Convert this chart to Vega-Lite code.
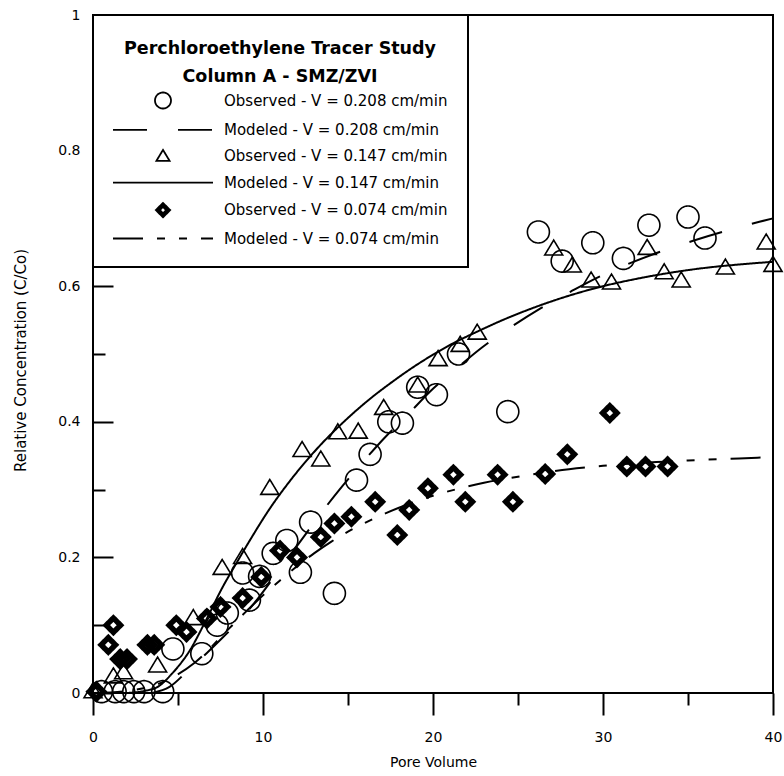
{
  "$schema": "https://vega.github.io/schema/vega-lite/v6.json",
  "width": 680,
  "height": 678,
  "autosize": {"type": "none"},
  "padding": {"left": 93, "top": 15, "right": 11, "bottom": 83},
  "background": "white",
  "config": {
    "view": {"stroke": "black", "strokeWidth": 2},
    "font": "DejaVu Sans",
    "axis": {
      "labelFont": "DejaVu Sans", "labelFontSize": 14, "labelColor": "black",
      "titleFont": "DejaVu Sans", "titleFontSize": 14, "titleFontWeight": "normal", "titleColor": "black",
      "tickColor": "black", "tickWidth": 2, "domain": false, "grid": false,
      "labelFlush": false, "labelOverlap": false, "labelBound": false
    },
    "legend": {"strokeWidth": 2}
  },
  "layer": [
    {
      "data": {"values": [
        {"s": "Modeled - V = 0.208 cm/min", "x": 3.5, "y": 0},
        {"s": "Modeled - V = 0.208 cm/min", "x": 4.5, "y": 0.009},
        {"s": "Modeled - V = 0.208 cm/min", "x": 5.7, "y": 0.036},
        {"s": "Modeled - V = 0.208 cm/min", "x": 6.7, "y": 0.059},
        {"s": "Modeled - V = 0.208 cm/min", "x": 7.6, "y": 0.081},
        {"s": "Modeled - V = 0.208 cm/min", "x": 8.5, "y": 0.104},
        {"s": "Modeled - V = 0.208 cm/min", "x": 9.5, "y": 0.133},
        {"s": "Modeled - V = 0.208 cm/min", "x": 10.5, "y": 0.166},
        {"s": "Modeled - V = 0.208 cm/min", "x": 11.5, "y": 0.2},
        {"s": "Modeled - V = 0.208 cm/min", "x": 12.5, "y": 0.234},
        {"s": "Modeled - V = 0.208 cm/min", "x": 13.5, "y": 0.268},
        {"s": "Modeled - V = 0.208 cm/min", "x": 14.5, "y": 0.3},
        {"s": "Modeled - V = 0.208 cm/min", "x": 15.3, "y": 0.324},
        {"s": "Modeled - V = 0.208 cm/min", "x": 16.2, "y": 0.35},
        {"s": "Modeled - V = 0.208 cm/min", "x": 17.1, "y": 0.375},
        {"s": "Modeled - V = 0.208 cm/min", "x": 18.5, "y": 0.41},
        {"s": "Modeled - V = 0.208 cm/min", "x": 19.8, "y": 0.444},
        {"s": "Modeled - V = 0.208 cm/min", "x": 21.4, "y": 0.479},
        {"s": "Modeled - V = 0.208 cm/min", "x": 22.9, "y": 0.51},
        {"s": "Modeled - V = 0.208 cm/min", "x": 24.6, "y": 0.54},
        {"s": "Modeled - V = 0.208 cm/min", "x": 26.3, "y": 0.567},
        {"s": "Modeled - V = 0.208 cm/min", "x": 28.1, "y": 0.592},
        {"s": "Modeled - V = 0.208 cm/min", "x": 29.7, "y": 0.613},
        {"s": "Modeled - V = 0.208 cm/min", "x": 31.6, "y": 0.634},
        {"s": "Modeled - V = 0.208 cm/min", "x": 33.5, "y": 0.652},
        {"s": "Modeled - V = 0.208 cm/min", "x": 35.3, "y": 0.667},
        {"s": "Modeled - V = 0.208 cm/min", "x": 37.3, "y": 0.682},
        {"s": "Modeled - V = 0.208 cm/min", "x": 39.2, "y": 0.695},
        {"s": "Modeled - V = 0.208 cm/min", "x": 40, "y": 0.7},
        {"s": "Modeled - V = 0.147 cm/min", "x": 2, "y": 0},
        {"s": "Modeled - V = 0.147 cm/min", "x": 3, "y": 0.003},
        {"s": "Modeled - V = 0.147 cm/min", "x": 3.8, "y": 0.009},
        {"s": "Modeled - V = 0.147 cm/min", "x": 4.7, "y": 0.03},
        {"s": "Modeled - V = 0.147 cm/min", "x": 5.7, "y": 0.063},
        {"s": "Modeled - V = 0.147 cm/min", "x": 6.6, "y": 0.105},
        {"s": "Modeled - V = 0.147 cm/min", "x": 7.6, "y": 0.155},
        {"s": "Modeled - V = 0.147 cm/min", "x": 8.4, "y": 0.19},
        {"s": "Modeled - V = 0.147 cm/min", "x": 9.2, "y": 0.224},
        {"s": "Modeled - V = 0.147 cm/min", "x": 10.4, "y": 0.272},
        {"s": "Modeled - V = 0.147 cm/min", "x": 11.5, "y": 0.31},
        {"s": "Modeled - V = 0.147 cm/min", "x": 12.5, "y": 0.341},
        {"s": "Modeled - V = 0.147 cm/min", "x": 13.5, "y": 0.369},
        {"s": "Modeled - V = 0.147 cm/min", "x": 14.5, "y": 0.394},
        {"s": "Modeled - V = 0.147 cm/min", "x": 15.5, "y": 0.417},
        {"s": "Modeled - V = 0.147 cm/min", "x": 16.5, "y": 0.438},
        {"s": "Modeled - V = 0.147 cm/min", "x": 17.5, "y": 0.457},
        {"s": "Modeled - V = 0.147 cm/min", "x": 18.8, "y": 0.48},
        {"s": "Modeled - V = 0.147 cm/min", "x": 20, "y": 0.499},
        {"s": "Modeled - V = 0.147 cm/min", "x": 21.2, "y": 0.516},
        {"s": "Modeled - V = 0.147 cm/min", "x": 22.6, "y": 0.533},
        {"s": "Modeled - V = 0.147 cm/min", "x": 24, "y": 0.549},
        {"s": "Modeled - V = 0.147 cm/min", "x": 26, "y": 0.569},
        {"s": "Modeled - V = 0.147 cm/min", "x": 28, "y": 0.586},
        {"s": "Modeled - V = 0.147 cm/min", "x": 30, "y": 0.6},
        {"s": "Modeled - V = 0.147 cm/min", "x": 32, "y": 0.611},
        {"s": "Modeled - V = 0.147 cm/min", "x": 34, "y": 0.62},
        {"s": "Modeled - V = 0.147 cm/min", "x": 36, "y": 0.627},
        {"s": "Modeled - V = 0.147 cm/min", "x": 38, "y": 0.632},
        {"s": "Modeled - V = 0.147 cm/min", "x": 40, "y": 0.636},
        {"s": "Modeled - V = 0.074 cm/min", "x": 0, "y": 0},
        {"s": "Modeled - V = 0.074 cm/min", "x": 2, "y": 0.003},
        {"s": "Modeled - V = 0.074 cm/min", "x": 4, "y": 0.015},
        {"s": "Modeled - V = 0.074 cm/min", "x": 6, "y": 0.045},
        {"s": "Modeled - V = 0.074 cm/min", "x": 8, "y": 0.095},
        {"s": "Modeled - V = 0.074 cm/min", "x": 9, "y": 0.12},
        {"s": "Modeled - V = 0.074 cm/min", "x": 10, "y": 0.144},
        {"s": "Modeled - V = 0.074 cm/min", "x": 11, "y": 0.166},
        {"s": "Modeled - V = 0.074 cm/min", "x": 12, "y": 0.187},
        {"s": "Modeled - V = 0.074 cm/min", "x": 13, "y": 0.206},
        {"s": "Modeled - V = 0.074 cm/min", "x": 14, "y": 0.223},
        {"s": "Modeled - V = 0.074 cm/min", "x": 15, "y": 0.238},
        {"s": "Modeled - V = 0.074 cm/min", "x": 16, "y": 0.251},
        {"s": "Modeled - V = 0.074 cm/min", "x": 17.2, "y": 0.265},
        {"s": "Modeled - V = 0.074 cm/min", "x": 18.5, "y": 0.278},
        {"s": "Modeled - V = 0.074 cm/min", "x": 20, "y": 0.291},
        {"s": "Modeled - V = 0.074 cm/min", "x": 21.6, "y": 0.302},
        {"s": "Modeled - V = 0.074 cm/min", "x": 23, "y": 0.31},
        {"s": "Modeled - V = 0.074 cm/min", "x": 25.5, "y": 0.321},
        {"s": "Modeled - V = 0.074 cm/min", "x": 28, "y": 0.33},
        {"s": "Modeled - V = 0.074 cm/min", "x": 30, "y": 0.335},
        {"s": "Modeled - V = 0.074 cm/min", "x": 32, "y": 0.339},
        {"s": "Modeled - V = 0.074 cm/min", "x": 35, "y": 0.343},
        {"s": "Modeled - V = 0.074 cm/min", "x": 38, "y": 0.346},
        {"s": "Modeled - V = 0.074 cm/min", "x": 40, "y": 0.348}
      ]},
      "mark": {"type": "line", "stroke": "black", "strokeWidth": 2, "interpolate": "monotone"},
      "encoding": {
        "x": {
          "field": "x", "type": "quantitative",
          "scale": {"domain": [0, 40], "nice": false, "zero": false},
          "axis": {
            "title": "Pore Volume",
            "values": [0, 5, 10, 15, 20, 25, 30, 35, 40],
            "labelExpr": "datum.value % 10 == 0 ? toString(datum.value) : ''",
            "tickSize": {"condition": {"test": "datum.value % 10 == 0", "value": 22}, "value": 12},
            "labelPadding": 15,
            "titleX": 340, "titleY": 69, "titleBaseline": "middle", "titleAlign": "center"
          }
        },
        "y": {
          "field": "y", "type": "quantitative",
          "scale": {"domain": [0, 1], "nice": false},
          "axis": {
            "title": "Relative Concentration (C/Co)",
            "values": [0, 0.1, 0.2, 0.3, 0.4, 0.5, 0.6, 0.7, 0.8, 0.9, 1],
            "labelExpr": "round(datum.value*10) % 2 == 0 ? toString(round(datum.value*10)/10) : ''",
            "tickSize": {"condition": {"test": "round(datum.value*10) % 2 == 0", "value": -20}, "value": -12},
            "labelPadding": 33,
            "titleFontSize": 15,
            "titleX": -73, "titleY": 345, "titleAngle": -90, "titleAlign": "center", "titleBaseline": "middle"
          }
        },
        "strokeDash": {
          "field": "s", "type": "nominal",
          "scale": {
            "domain": ["Observed - V = 0.208 cm/min", "Modeled - V = 0.208 cm/min", "Observed - V = 0.147 cm/min", "Modeled - V = 0.147 cm/min", "Observed - V = 0.074 cm/min", "Modeled - V = 0.074 cm/min"],
            "range": [[1, 0], [34, 31], [1, 0], [1, 0], [1, 0], [30, 14, 8, 14, 8, 14]]
          }
        }
      }
    },
    {
      "data": {"values": [
        {"s": "Observed - V = 0.208 cm/min", "x": 0.5, "y": 0.002},
        {"s": "Observed - V = 0.208 cm/min", "x": 1.3, "y": 0.002},
        {"s": "Observed - V = 0.208 cm/min", "x": 1.8, "y": 0.002},
        {"s": "Observed - V = 0.208 cm/min", "x": 2.4, "y": 0.002},
        {"s": "Observed - V = 0.208 cm/min", "x": 3.0, "y": 0.002},
        {"s": "Observed - V = 0.208 cm/min", "x": 4.1, "y": 0.002},
        {"s": "Observed - V = 0.208 cm/min", "x": 4.7, "y": 0.065},
        {"s": "Observed - V = 0.208 cm/min", "x": 6.4, "y": 0.058},
        {"s": "Observed - V = 0.208 cm/min", "x": 7.3, "y": 0.1},
        {"s": "Observed - V = 0.208 cm/min", "x": 7.9, "y": 0.118},
        {"s": "Observed - V = 0.208 cm/min", "x": 8.8, "y": 0.177},
        {"s": "Observed - V = 0.208 cm/min", "x": 9.2, "y": 0.137},
        {"s": "Observed - V = 0.208 cm/min", "x": 9.8, "y": 0.172},
        {"s": "Observed - V = 0.208 cm/min", "x": 10.6, "y": 0.206},
        {"s": "Observed - V = 0.208 cm/min", "x": 11.4, "y": 0.225},
        {"s": "Observed - V = 0.208 cm/min", "x": 12.2, "y": 0.178},
        {"s": "Observed - V = 0.208 cm/min", "x": 12.8, "y": 0.252},
        {"s": "Observed - V = 0.208 cm/min", "x": 14.2, "y": 0.147},
        {"s": "Observed - V = 0.208 cm/min", "x": 15.5, "y": 0.314},
        {"s": "Observed - V = 0.208 cm/min", "x": 16.3, "y": 0.352},
        {"s": "Observed - V = 0.208 cm/min", "x": 17.4, "y": 0.4},
        {"s": "Observed - V = 0.208 cm/min", "x": 18.2, "y": 0.398},
        {"s": "Observed - V = 0.208 cm/min", "x": 19.1, "y": 0.451},
        {"s": "Observed - V = 0.208 cm/min", "x": 20.2, "y": 0.44},
        {"s": "Observed - V = 0.208 cm/min", "x": 21.5, "y": 0.5},
        {"s": "Observed - V = 0.208 cm/min", "x": 24.4, "y": 0.415},
        {"s": "Observed - V = 0.208 cm/min", "x": 26.2, "y": 0.68},
        {"s": "Observed - V = 0.208 cm/min", "x": 27.6, "y": 0.637},
        {"s": "Observed - V = 0.208 cm/min", "x": 29.4, "y": 0.664},
        {"s": "Observed - V = 0.208 cm/min", "x": 31.2, "y": 0.641},
        {"s": "Observed - V = 0.208 cm/min", "x": 32.7, "y": 0.69},
        {"s": "Observed - V = 0.208 cm/min", "x": 35.0, "y": 0.702},
        {"s": "Observed - V = 0.208 cm/min", "x": 36.0, "y": 0.671},
        {"s": "Observed - V = 0.147 cm/min", "x": 0, "y": 0.002},
        {"s": "Observed - V = 0.147 cm/min", "x": 1.2, "y": 0.024},
        {"s": "Observed - V = 0.147 cm/min", "x": 1.8, "y": 0.03},
        {"s": "Observed - V = 0.147 cm/min", "x": 3.8, "y": 0.04},
        {"s": "Observed - V = 0.147 cm/min", "x": 5.9, "y": 0.11},
        {"s": "Observed - V = 0.147 cm/min", "x": 7.6, "y": 0.184},
        {"s": "Observed - V = 0.147 cm/min", "x": 8.8, "y": 0.2},
        {"s": "Observed - V = 0.147 cm/min", "x": 10.4, "y": 0.302},
        {"s": "Observed - V = 0.147 cm/min", "x": 12.3, "y": 0.358},
        {"s": "Observed - V = 0.147 cm/min", "x": 13.4, "y": 0.344},
        {"s": "Observed - V = 0.147 cm/min", "x": 14.4, "y": 0.384},
        {"s": "Observed - V = 0.147 cm/min", "x": 15.6, "y": 0.385},
        {"s": "Observed - V = 0.147 cm/min", "x": 17.1, "y": 0.42},
        {"s": "Observed - V = 0.147 cm/min", "x": 19.1, "y": 0.453},
        {"s": "Observed - V = 0.147 cm/min", "x": 20.3, "y": 0.492},
        {"s": "Observed - V = 0.147 cm/min", "x": 21.6, "y": 0.513},
        {"s": "Observed - V = 0.147 cm/min", "x": 22.6, "y": 0.531},
        {"s": "Observed - V = 0.147 cm/min", "x": 27.1, "y": 0.655},
        {"s": "Observed - V = 0.147 cm/min", "x": 28.2, "y": 0.63},
        {"s": "Observed - V = 0.147 cm/min", "x": 29.3, "y": 0.608},
        {"s": "Observed - V = 0.147 cm/min", "x": 30.5, "y": 0.605},
        {"s": "Observed - V = 0.147 cm/min", "x": 32.6, "y": 0.656},
        {"s": "Observed - V = 0.147 cm/min", "x": 33.6, "y": 0.62},
        {"s": "Observed - V = 0.147 cm/min", "x": 34.6, "y": 0.608},
        {"s": "Observed - V = 0.147 cm/min", "x": 37.2, "y": 0.627},
        {"s": "Observed - V = 0.147 cm/min", "x": 39.6, "y": 0.664},
        {"s": "Observed - V = 0.147 cm/min", "x": 40, "y": 0.631},
        {"s": "Observed - V = 0.074 cm/min", "x": 0.2, "y": 0.002},
        {"s": "Observed - V = 0.074 cm/min", "x": 0.9, "y": 0.071},
        {"s": "Observed - V = 0.074 cm/min", "x": 1.2, "y": 0.1},
        {"s": "Observed - V = 0.074 cm/min", "x": 1.6, "y": 0.05},
        {"s": "Observed - V = 0.074 cm/min", "x": 2.0, "y": 0.05},
        {"s": "Observed - V = 0.074 cm/min", "x": 3.2, "y": 0.071},
        {"s": "Observed - V = 0.074 cm/min", "x": 3.6, "y": 0.071},
        {"s": "Observed - V = 0.074 cm/min", "x": 4.9, "y": 0.1},
        {"s": "Observed - V = 0.074 cm/min", "x": 5.5, "y": 0.09},
        {"s": "Observed - V = 0.074 cm/min", "x": 6.7, "y": 0.11},
        {"s": "Observed - V = 0.074 cm/min", "x": 7.5, "y": 0.127},
        {"s": "Observed - V = 0.074 cm/min", "x": 8.8, "y": 0.14},
        {"s": "Observed - V = 0.074 cm/min", "x": 9.9, "y": 0.171},
        {"s": "Observed - V = 0.074 cm/min", "x": 11.0, "y": 0.21},
        {"s": "Observed - V = 0.074 cm/min", "x": 12.0, "y": 0.2},
        {"s": "Observed - V = 0.074 cm/min", "x": 13.4, "y": 0.23},
        {"s": "Observed - V = 0.074 cm/min", "x": 14.2, "y": 0.25},
        {"s": "Observed - V = 0.074 cm/min", "x": 15.2, "y": 0.26},
        {"s": "Observed - V = 0.074 cm/min", "x": 16.6, "y": 0.282},
        {"s": "Observed - V = 0.074 cm/min", "x": 17.9, "y": 0.233},
        {"s": "Observed - V = 0.074 cm/min", "x": 18.6, "y": 0.27},
        {"s": "Observed - V = 0.074 cm/min", "x": 19.7, "y": 0.302},
        {"s": "Observed - V = 0.074 cm/min", "x": 21.2, "y": 0.322},
        {"s": "Observed - V = 0.074 cm/min", "x": 21.9, "y": 0.282},
        {"s": "Observed - V = 0.074 cm/min", "x": 23.8, "y": 0.322},
        {"s": "Observed - V = 0.074 cm/min", "x": 24.7, "y": 0.282},
        {"s": "Observed - V = 0.074 cm/min", "x": 26.6, "y": 0.323},
        {"s": "Observed - V = 0.074 cm/min", "x": 27.9, "y": 0.352},
        {"s": "Observed - V = 0.074 cm/min", "x": 30.4, "y": 0.413},
        {"s": "Observed - V = 0.074 cm/min", "x": 31.4, "y": 0.334},
        {"s": "Observed - V = 0.074 cm/min", "x": 32.5, "y": 0.334},
        {"s": "Observed - V = 0.074 cm/min", "x": 33.8, "y": 0.334}
      ]},
      "mark": {"type": "point", "filled": false, "stroke": "black", "strokeWidth": 1.6, "size": 484, "opacity": 1},
      "encoding": {
        "x": {"field": "x", "type": "quantitative"},
        "y": {"field": "y", "type": "quantitative"},
        "shape": {
          "field": "s", "type": "nominal",
          "scale": {
            "domain": ["Observed - V = 0.208 cm/min", "Modeled - V = 0.208 cm/min", "Observed - V = 0.147 cm/min", "Modeled - V = 0.147 cm/min", "Observed - V = 0.074 cm/min", "Modeled - V = 0.074 cm/min"],
            "range": ["circle", "M-6.25,0H6.25", "M0,-0.8L0.82,0.56L-0.82,0.56Z", "M-6.25,0H6.25", "M0,-0.9L0.9,0L0,0.9L-0.9,0Z M0,-0.77L0.77,0L0,0.77L-0.77,0Z M0,-0.64L0.64,0L0,0.64L-0.64,0Z M0,-0.52L0.52,0L0,0.52L-0.52,0Z M0,-0.4L0.4,0L0,0.4L-0.4,0Z", "M-6.25,0H6.25"]
          },
          "legend": {
            "title": ["Perchloroethylene Tracer Study", "Column A - SMZ/ZVI"],
            "orient": "top-left", "offset": 0, "padding": 20,
            "fillColor": "white", "strokeColor": "black",
            "titleFont": "DejaVu Sans", "titleFontSize": 17.5, "titleFontWeight": "bold", "titleColor": "black",
            "titleAnchor": "middle", "titleAlign": "center", "titleLineHeight": 28, "titleBaseline": "line-top", "titlePadding": 11, "titleLimit": 400,
            "labelFont": "DejaVu Sans", "labelFontSize": 15, "labelColor": "black", "labelLimit": 400,
            "symbolSize": 256, "symbolOffset": 41, "labelOffset": 52, "rowPadding": 8.4,
            "symbolStrokeColor": "black", "symbolStrokeWidth": 1.8
          }
        },
        "strokeDash": {
          "field": "s", "type": "nominal",
          "legend": {
            "title": ["Perchloroethylene Tracer Study", "Column A - SMZ/ZVI"],
            "orient": "top-left", "offset": 0, "padding": 20,
            "fillColor": "white", "strokeColor": "black",
            "titleFont": "DejaVu Sans", "titleFontSize": 17.5, "titleFontWeight": "bold", "titleColor": "black",
            "titleAnchor": "middle", "titleAlign": "center", "titleLineHeight": 28, "titleBaseline": "line-top", "titlePadding": 11, "titleLimit": 400,
            "labelFont": "DejaVu Sans", "labelFontSize": 15, "labelColor": "black", "labelLimit": 400,
            "symbolSize": 256, "symbolOffset": 41, "labelOffset": 52, "rowPadding": 8.4,
            "symbolStrokeColor": "black", "symbolStrokeWidth": 1.8
          }
        }
      }
    }
  ]
}
